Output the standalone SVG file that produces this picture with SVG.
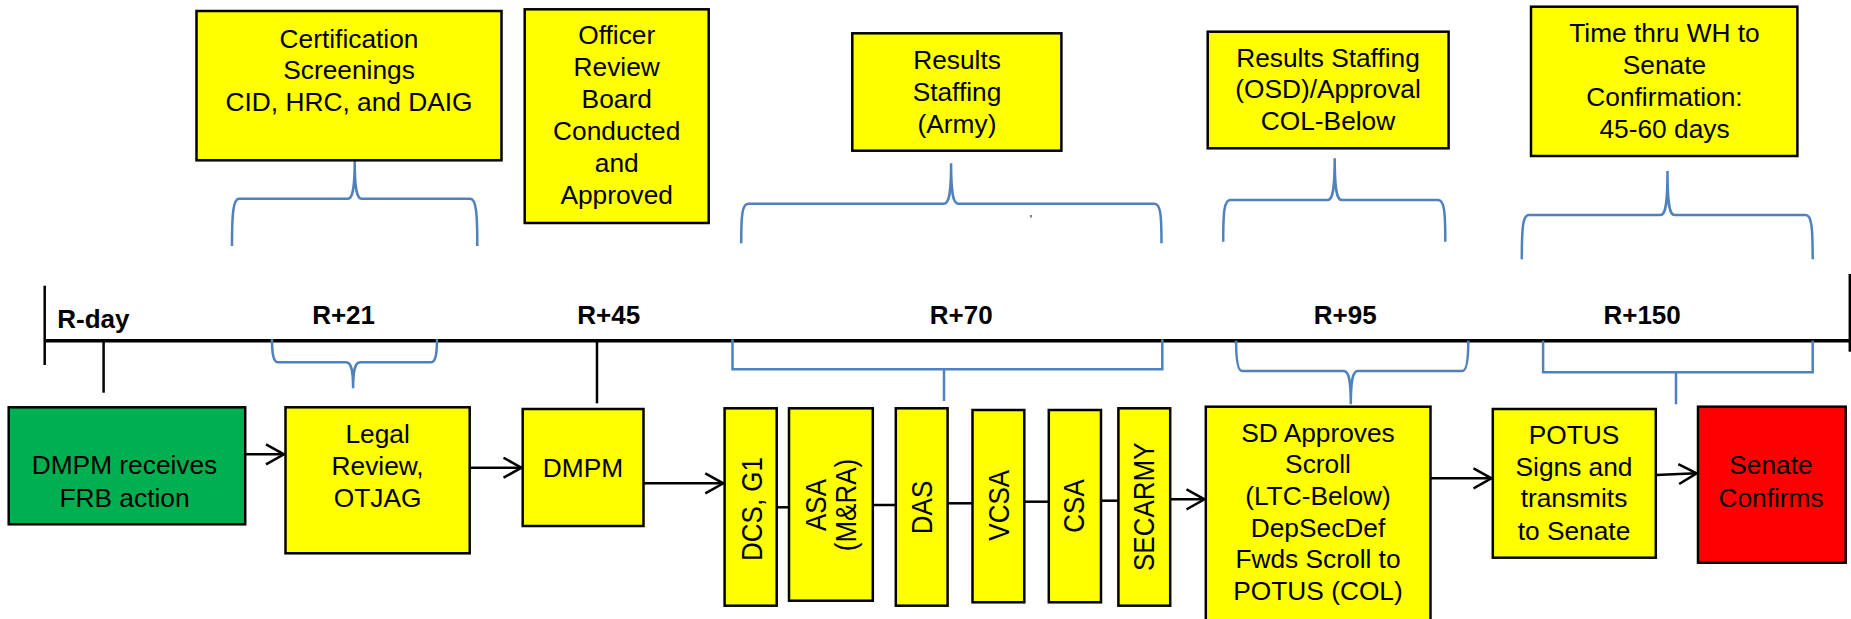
<svg xmlns="http://www.w3.org/2000/svg" width="1851" height="619" viewBox="0 0 1851 619">
<style>
.box{stroke:#000;stroke-width:2.5;fill:#FFFF00}
.t{font-family:"Liberation Sans",Arial,sans-serif;font-size:26.3px;text-anchor:middle;fill:#000}
.v{font-family:"Liberation Sans",Arial,sans-serif;font-size:26px;text-anchor:middle;fill:#000}
.lbl{font-family:"Liberation Sans",Arial,sans-serif;font-size:26px;font-weight:bold;text-anchor:middle;fill:#000}
.ln{stroke:#000;stroke-width:2.5;fill:none}
.br{stroke:#4F81BD;stroke-width:2.5;fill:none}
</style>
<defs>
<marker id="arr" markerUnits="userSpaceOnUse" markerWidth="22" markerHeight="24" refX="19" refY="11" orient="auto">
<path d="M1,1 L19,11 L1,21" fill="none" stroke="#000" stroke-width="2.5"/>
</marker>
</defs>
<rect width="1851" height="619" fill="#fff"/>

<g id="timeline">
<line x1="44.7" y1="340.7" x2="1851" y2="340.7" stroke="#000" stroke-width="3.5"/>
<line x1="44.7" y1="285.7" x2="44.7" y2="365" class="ln"/>
<line x1="1849.8" y1="274" x2="1849.8" y2="351.7" class="ln"/>
<line x1="103.6" y1="340" x2="103.6" y2="392.7" class="ln"/>
<line x1="597" y1="340" x2="597" y2="403.3" class="ln"/>
<text class="lbl" x="57.3" y="328.3" style="text-anchor:start">R-day</text>
<text class="lbl" x="343.6" y="324">R+21</text>
<text class="lbl" x="608.7" y="324">R+45</text>
<text class="lbl" x="961.2" y="324">R+70</text>
<text class="lbl" x="1345.2" y="324">R+95</text>
<text class="lbl" x="1642.1" y="324">R+150</text>
</g>

<g id="braces">
<path class="br" d="M232,246 C232,215 233,198.7 239,198.7 H347.7 C352.7,198.7 354.7,188.7 354.7,161 C354.7,188.7 356.7,198.7 361.7,198.7 H470.3 C476.3,198.7 477.3,215 477.3,246"/>
<path class="br" d="M741.2,243.3 C741.2,215 742.2,203.7 748.2,203.7 H944.1 C949.1,203.7 951.1,193.7 951.1,163.3 C951.1,193.7 953.1,203.7 958.1,203.7 H1154.5 C1160.5,203.7 1161.5,215 1161.5,243.3"/>
<path class="br" d="M1223.2,241.7 C1223.2,212 1224.2,200 1230.2,200 H1327.7 C1332.7,200 1334.7,190 1334.7,158.3 C1334.7,190 1336.7,200 1341.7,200 H1438.3 C1444.3,200 1445.3,212 1445.3,241.7"/>
<path class="br" d="M1521.8,259.3 C1521.8,228 1522.8,215 1528.8,215 H1660.5 C1665.5,215 1667.5,205 1667.5,171 C1667.5,205 1669.5,215 1674.5,215 H1805.7 C1811.7,215 1812.7,228 1812.7,259.3"/>
<line x1="1031" y1="215" x2="1031" y2="217.5" stroke="#000" stroke-width="1"/>
<path class="br" d="M272,339 C272,352 273,362.3 278,362.3 H346.1 C351.1,362.3 353.1,370 353.1,388.3 C353.1,370 355.1,362.3 360.1,362.3 H431 C436,362.3 437,352 437,339"/>
<path class="br" d="M732.5,339.3 V369.3 H1162.3 V339.3 M944,369.3 V401"/>
<path class="br" d="M1236.1,340.7 C1236.1,355 1237.1,371 1242.1,371 H1343.8 C1348.8,371 1350.8,380 1350.8,404.3 C1350.8,380 1352.8,371 1357.8,371 H1462.3 C1467.3,371 1468.3,355 1468.3,340.7"/>
<path class="br" d="M1543.1,340.7 V372.3 H1812.7 V340.7 M1676,372.3 V404.3"/>
</g>

<g id="connectors">
<path class="ln" d="M245.2,454.3 H284" marker-end="url(#arr)"/>
<path class="ln" d="M469.7,467.7 H521.5" marker-end="url(#arr)"/>
<path class="ln" d="M643.5,483.3 H723.3" marker-end="url(#arr)"/>
<path class="ln" d="M776.7,507.3 H789"/>
<path class="ln" d="M872.8,505 H895.8"/>
<path class="ln" d="M947.6,503.3 H972.5"/>
<path class="ln" d="M1024.3,501.7 H1048.8"/>
<path class="ln" d="M1101,500.7 H1118.4"/>
<path class="ln" d="M1170.2,499.3 H1204.5" marker-end="url(#arr)"/>
<path class="ln" d="M1430.5,478.3 H1491.5" marker-end="url(#arr)"/>
<path class="ln" d="M1655.8,475 L1696.7,473.3" marker-end="url(#arr)"/>
</g>

<g id="cert">
<rect class="box" x="196.5" y="11" width="305" height="149.3"/>
<text class="t" x="349" y="47.7">Certification</text>
<text class="t" x="349" y="79.3">Screenings</text>
<text class="t" x="349" y="110.7">CID, HRC, and DAIG</text>
</g>
<g id="officer">
<rect class="box" x="524.7" y="9.3" width="184" height="213.7"/>
<text class="t" x="616.7" y="44.3">Officer</text>
<text class="t" x="616.7" y="76.3">Review</text>
<text class="t" x="616.7" y="108.3">Board</text>
<text class="t" x="616.7" y="140">Conducted</text>
<text class="t" x="616.7" y="172">and</text>
<text class="t" x="616.7" y="204">Approved</text>
</g>
<g id="results-army">
<rect class="box" x="852.3" y="33.3" width="209.1" height="117.4"/>
<text class="t" x="957" y="69">Results</text>
<text class="t" x="957" y="100.7">Staffing</text>
<text class="t" x="957" y="132.7">(Army)</text>
</g>
<g id="results-osd">
<rect class="box" x="1207.7" y="31.7" width="240.9" height="116.6"/>
<text class="t" x="1328" y="66.7">Results Staffing</text>
<text class="t" x="1328" y="98.3">(OSD)/Approval</text>
<text class="t" x="1328" y="130">COL-Below</text>
</g>
<g id="time-wh">
<rect class="box" x="1531" y="6.7" width="266.4" height="149.3"/>
<text class="t" x="1664.5" y="42.3">Time thru WH to</text>
<text class="t" x="1664.5" y="74">Senate</text>
<text class="t" x="1664.5" y="106">Confirmation:</text>
<text class="t" x="1664.5" y="137.7">45-60 days</text>
</g>

<g id="dmpm-receives">
<rect class="box" x="8.7" y="407.3" width="236.5" height="117" style="fill:#00B050"/>
<text class="t" x="124.5" y="474.3">DMPM receives</text>
<text class="t" x="124.5" y="506.7">FRB action</text>
</g>
<g id="legal">
<rect class="box" x="285.5" y="407.3" width="184.2" height="146"/>
<text class="t" x="377.6" y="443.3">Legal</text>
<text class="t" x="377.6" y="475">Review,</text>
<text class="t" x="377.6" y="506.7">OTJAG</text>
</g>
<g id="dmpm">
<rect class="box" x="522.7" y="409" width="120.8" height="117"/>
<text class="t" x="583" y="477">DMPM</text>
</g>
<g id="dcs-g1">
<rect class="box" x="724.6" y="408.3" width="52.1" height="197.4"/>
<text class="v" transform="translate(762,509) rotate(-90) scale(1,1.12)">DCS, G1</text>
</g>
<g id="asa">
<rect class="box" x="789" y="408.3" width="83.8" height="192.4"/>
<text class="v" transform="translate(825.6,505) rotate(-90) scale(1,1.12)">ASA</text>
<text class="v" transform="translate(855.5,505) rotate(-90) scale(1,1.12)">(M&amp;RA)</text>
</g>
<g id="das">
<rect class="box" x="895.8" y="408.3" width="51.8" height="197.4"/>
<text class="v" transform="translate(932,507.5) rotate(-90) scale(1,1.12)">DAS</text>
</g>
<g id="vcsa">
<rect class="box" x="972.5" y="410" width="51.8" height="192.3"/>
<text class="v" transform="translate(1009,505.3) rotate(-90) scale(1,1.12)">VCSA</text>
</g>
<g id="csa">
<rect class="box" x="1048.8" y="410" width="52.2" height="192.3"/>
<text class="v" transform="translate(1084.4,506) rotate(-90) scale(1,1.12)">CSA</text>
</g>
<g id="secarmy">
<rect class="box" x="1118.4" y="408.3" width="51.8" height="197.4"/>
<text class="v" transform="translate(1153.5,506.7) rotate(-90) scale(1,1.12)">SECARMY</text>
</g>
<g id="sd-approves">
<rect class="box" x="1205.8" y="406.7" width="224.7" height="220"/>
<text class="t" x="1318" y="441.7">SD Approves</text>
<text class="t" x="1318" y="473.3">Scroll</text>
<text class="t" x="1318" y="505">(LTC-Below)</text>
<text class="t" x="1318" y="536.7">DepSecDef</text>
<text class="t" x="1318" y="568.3">Fwds Scroll to</text>
<text class="t" x="1318" y="600">POTUS (COL)</text>
</g>
<g id="potus">
<rect class="box" x="1492.8" y="409" width="163" height="148.7"/>
<text class="t" x="1574" y="444">POTUS</text>
<text class="t" x="1574" y="475.7">Signs and</text>
<text class="t" x="1574" y="507.3">transmits</text>
<text class="t" x="1574" y="540">to Senate</text>
</g>
<g id="senate">
<rect class="box" x="1698" y="406.7" width="147.7" height="156" style="fill:#FF0000"/>
<text class="t" x="1771" y="474.3">Senate</text>
<text class="t" x="1771" y="506.7">Confirms</text>
</g>
</svg>
